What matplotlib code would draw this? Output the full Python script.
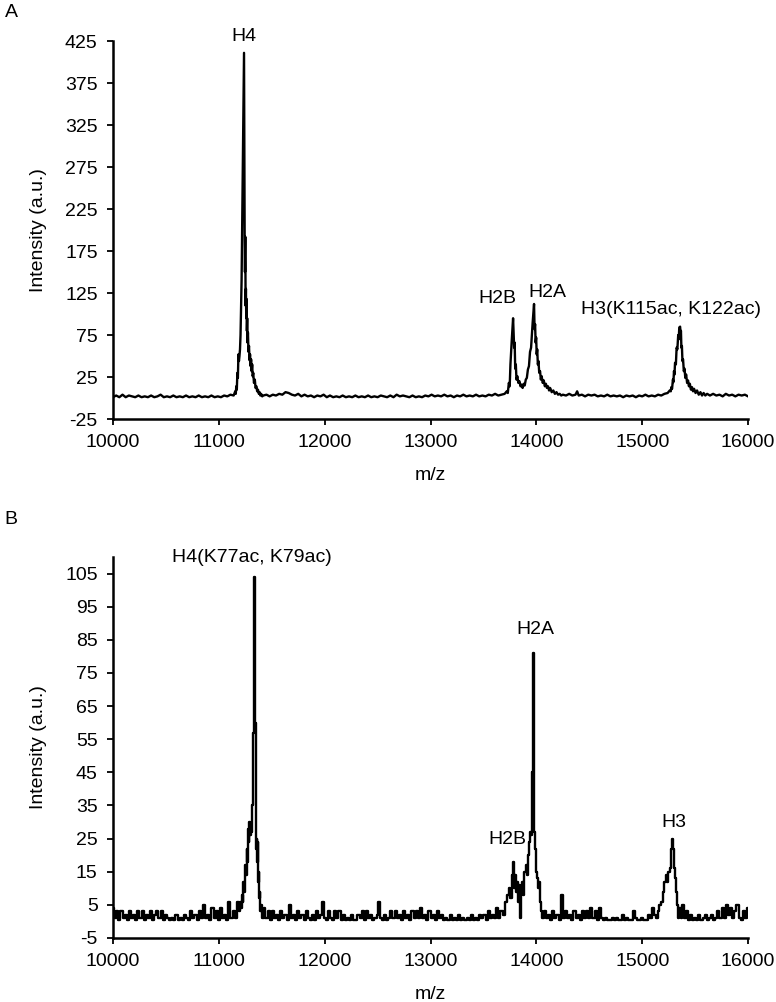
import numpy as np
import matplotlib.pyplot as plt

plt.rcParams['font.family'] = ['Liberation Sans', 'DejaVu Sans']
plt.rcParams['axes.unicode_minus'] = False

# panel A spectrum, (m/z, intensity)
spec_a = [
    (10000, 1), (10030, 3), (10060, 1), (10090, 4), (10120, 1), (10150, 3), (10180, 2), (10210, 1),
    (10240, 3), (10270, 1), (10300, 2), (10330, 1), (10360, 3), (10390, 1), (10420, 2), (10450, 4),
    (10480, 1), (10510, 2), (10540, 1), (10570, 3), (10600, 1), (10630, 2), (10660, 1), (10690, 3),
    (10720, 1), (10750, 2), (10780, 1), (10810, 3), (10840, 1), (10870, 2), (10900, 1), (10930, 3),
    (10960, 1), (10990, 2), (11020, 1), (11050, 3), (11080, 2), (11110, 4), (11140, 3),
    (11155, 8), (11160, 5), (11165, 14), (11170, 10), (11175, 30), (11180, 24), (11185, 52),
    (11190, 44), (11195, 50), (11200, 58), (11205, 75), (11215, 140), (11225, 260), (11238, 411),
    (11244, 190), (11247, 150), (11250, 192), (11253, 110), (11256, 130), (11259, 95), (11262, 118),
    (11265, 80), (11268, 95), (11271, 66), (11275, 78), (11280, 55), (11285, 62), (11290, 45),
    (11295, 52), (11300, 38), (11305, 46), (11310, 32), (11315, 40), (11320, 26), (11325, 30),
    (11332, 18), (11340, 22), (11347, 12), (11355, 14), (11362, 8), (11370, 10), (11378, 5),
    (11385, 7), (11392, 3), (11400, 5), (11410, 2), (11420, 3),
    (11450, 4), (11480, 2), (11510, 4), (11540, 3), (11570, 5), (11600, 4), (11630, 7), (11660, 6),
    (11690, 4), (11720, 3), (11750, 5), (11780, 2), (11810, 4), (11840, 2), (11870, 3), (11900, 1),
    (11930, 3), (11960, 2), (11990, 4), (12020, 1), (12050, 3), (12080, 1), (12110, 2), (12140, 1),
    (12170, 3), (12200, 1), (12230, 2), (12260, 1), (12290, 3), (12320, 1), (12350, 2), (12380, 1),
    (12410, 3), (12440, 1), (12470, 2), (12500, 1), (12530, 3), (12560, 2), (12590, 1), (12620, 3),
    (12650, 1), (12680, 4), (12710, 2), (12740, 3), (12770, 2), (12800, 1), (12830, 3), (12860, 1),
    (12890, 2), (12920, 1), (12950, 3), (12980, 2), (13010, 4), (13040, 2), (13070, 3), (13100, 2),
    (13130, 4), (13160, 2), (13190, 3), (13220, 1), (13250, 3), (13280, 2), (13310, 4), (13340, 2),
    (13370, 3), (13400, 2), (13430, 4), (13460, 2), (13490, 3), (13520, 2), (13550, 4), (13580, 3),
    (13610, 5), (13640, 3), (13670, 4), (13700, 5),
    (13720, 8), (13730, 6), (13740, 18), (13748, 14), (13755, 40), (13768, 70), (13780, 95),
    (13790, 60), (13795, 66), (13800, 35), (13806, 40), (13812, 22), (13820, 26), (13830, 18),
    (13840, 20), (13850, 14), (13860, 16), (13870, 12), (13880, 17), (13890, 15), (13900, 22),
    (13910, 24), (13920, 34), (13930, 38), (13940, 55), (13950, 60), (13965, 90), (13978, 112),
    (13983, 82), (13988, 88), (13993, 66), (13998, 72), (14003, 52), (14008, 58), (14014, 40),
    (14020, 44), (14027, 30), (14035, 32), (14042, 22), (14050, 26), (14060, 18), (14070, 21),
    (14080, 14), (14090, 17), (14100, 12), (14110, 14), (14120, 9), (14130, 12), (14145, 7),
    (14160, 9), (14175, 5), (14190, 7), (14205, 4), (14220, 5), (14235, 3), (14250, 4),
    (14280, 3), (14310, 5), (14340, 3), (14370, 4), (14385, 8), (14400, 3), (14430, 4), (14460, 2),
    (14490, 4), (14520, 3), (14550, 4), (14580, 2), (14610, 3), (14640, 2), (14670, 4), (14700, 2),
    (14730, 3), (14760, 2), (14790, 3), (14820, 1), (14850, 3), (14880, 2), (14910, 3), (14940, 1),
    (14970, 3), (15000, 2), (15030, 4), (15060, 2), (15090, 3), (15120, 2), (15150, 4), (15180, 3),
    (15210, 5), (15240, 6), (15260, 9),
    (15270, 8), (15275, 13), (15282, 11), (15290, 22), (15295, 19), (15300, 32), (15305, 28),
    (15310, 42), (15318, 40), (15325, 60), (15332, 58), (15340, 75), (15345, 70), (15350, 84),
    (15358, 85), (15362, 78), (15366, 80), (15370, 60), (15375, 62), (15380, 44), (15386, 46),
    (15393, 32), (15400, 35), (15407, 24), (15415, 28), (15424, 18), (15433, 21), (15441, 14),
    (15450, 17), (15460, 10), (15470, 13), (15480, 8), (15490, 11), (15504, 6), (15518, 9),
    (15534, 4), (15550, 7), (15565, 3), (15580, 6), (15596, 3), (15613, 5),
    (15640, 3), (15670, 5), (15700, 3), (15730, 4), (15760, 2), (15790, 5), (15820, 3), (15850, 4),
    (15880, 2), (15910, 4), (15940, 3), (15970, 4), (16000, 2),
]

# panel B spectrum
spec_b = [
    (10000, 4), (10020, 1), (10040, 3), (10060, 0.5), (10080, 3), (10100, 1), (10120, 2), (10140, 0.5),
    (10160, 3), (10180, 1), (10200, 2), (10220, 0.5), (10240, 3), (10260, 1), (10280, 3), (10300, 0.5),
    (10320, 2), (10340, 1), (10360, 3), (10380, 0.5), (10400, 2), (10420, 3), (10440, 1), (10460, 3),
    (10480, 0.5), (10500, 2), (10520, 1), (10540, 0.5), (10560, 1), (10580, 0.5), (10600, 2), (10620, 0.5),
    (10640, 1), (10660, 0.5), (10680, 2), (10700, 1), (10720, 0.5), (10740, 3), (10760, 1), (10780, 2),
    (10800, 0.5), (10820, 3), (10840, 1), (10860, 5), (10880, 1), (10900, 2), (10920, 0.5), (10940, 4),
    (10960, 1), (10980, 3), (11000, 0.5), (11020, 4), (11040, 1), (11060, 2), (11080, 0.5), (11100, 6),
    (11120, 1), (11140, 3), (11160, 1), (11180, 6),
    (11195, 3), (11205, 6), (11212, 4), (11220, 8), (11228, 6), (11235, 12), (11242, 9), (11250, 17),
    (11258, 14), (11265, 22), (11272, 18), (11280, 28), (11286, 24), (11292, 30), (11298, 26),
    (11305, 27), (11315, 35), (11325, 57), (11333, 75), (11340, 104), (11347, 60), (11352, 35),
    (11356, 22), (11360, 25), (11364, 18), (11368, 24), (11373, 12), (11378, 15), (11384, 7),
    (11390, 9), (11396, 3), (11402, 5), (11415, 1),
    (11430, 4), (11450, 1), (11470, 3), (11490, 0.5), (11510, 3), (11530, 1), (11550, 2), (11570, 0.5),
    (11590, 3), (11610, 1), (11630, 2), (11650, 0.5), (11670, 5), (11690, 1), (11710, 2), (11730, 0.5),
    (11750, 3), (11770, 1), (11790, 2), (11810, 0.5), (11830, 3), (11850, 1), (11870, 0.5), (11890, 2),
    (11910, 0.5), (11930, 3), (11950, 1), (11970, 2), (11985, 6), (12000, 1), (12020, 0.5), (12040, 3),
    (12060, 1), (12080, 0.5), (12100, 3), (12120, 1), (12140, 3), (12160, 0.5), (12180, 2), (12200, 0.5),
    (12220, 1), (12240, 0.5), (12260, 2), (12280, 0.5), (12300, 0.5), (12320, 2), (12340, 1), (12360, 3),
    (12380, 0.5), (12400, 3), (12420, 1), (12440, 2), (12460, 0.5), (12480, 1), (12500, 2), (12510, 6),
    (12530, 1), (12550, 0.5), (12570, 2), (12590, 0.5), (12610, 1), (12630, 3), (12650, 1), (12670, 3),
    (12690, 1), (12710, 2), (12730, 0.5), (12750, 3), (12770, 1), (12790, 2), (12810, 0.5), (12830, 3),
    (12850, 1), (12870, 3), (12890, 1), (12910, 4), (12930, 1), (12950, 2), (12970, 0.5), (12990, 3),
    (13010, 1), (13030, 2), (13050, 0.5), (13070, 3), (13090, 1), (13110, 2), (13130, 0.5), (13150, 1),
    (13170, 0.5), (13190, 2), (13210, 0.5), (13230, 1), (13250, 0.5), (13270, 2), (13290, 0.5), (13310, 1),
    (13330, 0.5), (13350, 1), (13370, 0.5), (13390, 2), (13410, 0.5), (13430, 1), (13450, 0.5), (13470, 2),
    (13490, 1), (13510, 2), (13530, 0.5), (13550, 3), (13570, 1), (13590, 2), (13610, 1), (13630, 4),
    (13650, 1), (13670, 3), (13690, 2), (13710, 6),
    (13730, 8), (13745, 10), (13760, 7), (13772, 14), (13783, 18), (13792, 10), (13800, 14), (13810, 9),
    (13820, 12), (13830, 6), (13840, 11), (13850, 1), (13860, 9), (13870, 12), (13880, 8), (13893, 15),
    (13906, 17), (13915, 14), (13925, 20), (13935, 24), (13945, 27), (13955, 26), (13965, 45),
    (13972, 81), (13978, 40), (13985, 27), (13993, 22), (14003, 15), (14012, 13), (14022, 10),
    (14032, 12), (14042, 6), (14052, 3), (14060, 1),
    (14080, 3), (14100, 1), (14120, 2), (14140, 0.5), (14160, 3), (14180, 1), (14200, 2), (14220, 0.5),
    (14245, 8), (14260, 1), (14280, 3), (14300, 1), (14320, 2), (14340, 0.5), (14360, 3), (14380, 1),
    (14400, 2), (14420, 0.5), (14440, 3), (14460, 1), (14480, 3), (14500, 1), (14520, 4), (14540, 1),
    (14560, 3), (14580, 0.5), (14600, 4), (14620, 1), (14640, 0.5), (14660, 1), (14680, 0.5), (14700, 0.5),
    (14720, 1), (14740, 0.5), (14760, 1), (14780, 0.5), (14800, 0.5), (14820, 2), (14840, 0.5), (14860, 1),
    (14880, 0.5), (14900, 0.5), (14920, 3), (14940, 1), (14960, 0.5), (14980, 0.5), (15000, 1), (15020, 0.5),
    (15040, 0.5), (15060, 2), (15080, 1), (15100, 4), (15120, 2),
    (15140, 1), (15155, 3), (15170, 5), (15185, 6), (15200, 9), (15215, 12), (15226, 14), (15240, 12),
    (15252, 15), (15264, 16), (15275, 22), (15283, 25), (15292, 22), (15300, 16), (15311, 13),
    (15320, 9), (15330, 5), (15340, 1), (15355, 4), (15370, 1), (15385, 5), (15400, 1), (15420, 3),
    (15440, 0.5), (15460, 2), (15480, 0.5), (15500, 1), (15520, 0.5), (15540, 2), (15560, 0.5), (15580, 1),
    (15600, 2), (15620, 0.5), (15640, 1), (15660, 2), (15680, 0.5), (15700, 1), (15720, 3), (15740, 1),
    (15760, 4), (15780, 1), (15800, 5), (15820, 2), (15840, 4), (15860, 1), (15880, 3), (15900, 5),
    (15920, 1), (15940, 0.5), (15960, 3), (15980, 1), (16000, 4),
]

labels_a = ['H4', 'H2B', 'H2A', 'H3(K115ac, K122ac)']
label_pos_a = [(11238, 431), (13628, 119), (14101, 126), (15273, 105)]
labels_b = ['H4(K77ac, K79ac)', 'H2A', 'H2B', 'H3']
label_pos_b = [(11311, 110), (13990, 88), (13726, 24.7), (15302, 30)]

yticks_a = np.arange(-25, 426, 50)
yticks_b = np.arange(-5, 106, 10)
xticks = np.arange(10000, 16001, 1000)

fs = 14

fig = plt.figure(figsize=(7.76, 10.02), dpi=100)
ax_a = fig.add_axes([0.1456, 0.5818, 0.8184, 0.3772])
ax_b = fig.add_axes([0.1456, 0.0639, 0.8184, 0.3802])

panels = [
    (ax_a, spec_a, 'default', 1.7, labels_a, label_pos_a, yticks_a, (-25, 425)),
    (ax_b, spec_b, 'steps-mid', 1.7, labels_b, label_pos_b, yticks_b, (-5, 110)),
]
for ax, spec, ds, lw, labs, pos, yt, ylim in panels:
    mz, inten = np.array(spec).T
    ax.plot(mz, inten, color='black', lw=lw, drawstyle=ds)
    for t, (x, y) in zip(labs, pos):
        ax.text(x, y, t, ha='center', va='center', fontsize=fs, clip_on=False)
    ax.set_xlim(10000, 16000)
    ax.set_ylim(*ylim)
    ax.set_xticks(xticks)
    ax.set_yticks(yt)
    ax.spines['top'].set_visible(False)
    ax.spines['right'].set_visible(False)
    ax.spines['left'].set_linewidth(1.8)
    ax.spines['bottom'].set_linewidth(1.8)
    ax.tick_params(direction='out', length=4, width=1.3, labelsize=fs, pad=7)
    ax.set_xlabel('m/z', fontsize=fs, labelpad=11)
    ax.set_ylabel('Intensity (a.u.)', fontsize=fs, labelpad=13)

fig.text(0.006, 0.988, 'A', fontsize=fs, va='center')
fig.text(0.006, 0.482, 'B', fontsize=fs, va='center')

fig.savefig('out.png', dpi=100)
